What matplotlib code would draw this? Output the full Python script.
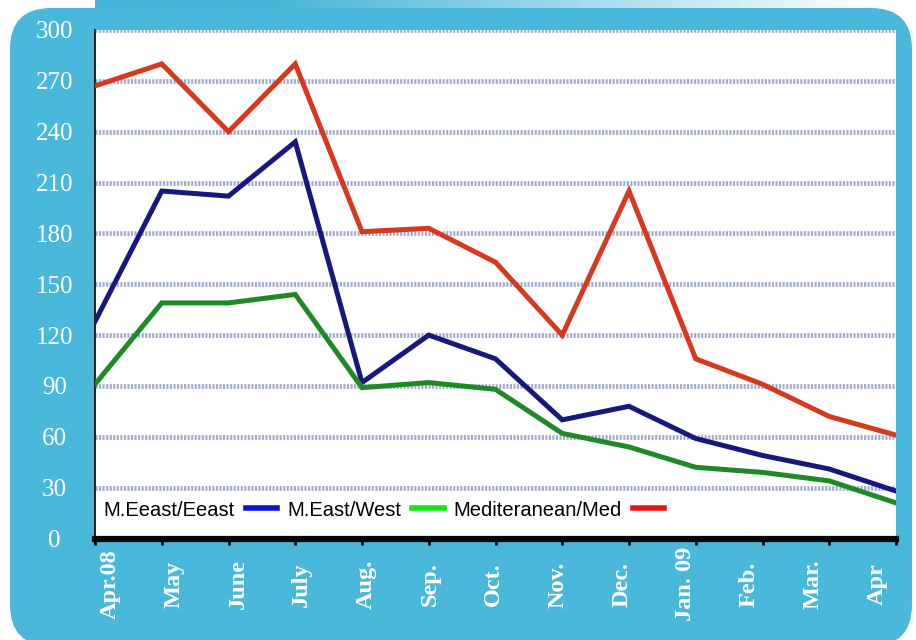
import numpy as np
import matplotlib.pyplot as plt
from matplotlib.patches import FancyBboxPatch
from matplotlib.lines import Line2D

# dados (tarifas por mes)
meses = ['Apr.08', 'May', 'June', 'July', 'Aug.', 'Sep.', 'Oct.', 'Nov.',
         'Dec.', 'Jan. 09', 'Feb.', 'Mar.', 'Apr']
me_east = [128, 205, 202, 234, 92, 120, 106, 70, 78, 59, 49, 41, 28]
me_west = [91, 139, 139, 144, 89, 92, 88, 62, 54, 42, 39, 34, 21]
med = [267, 280, 240, 280, 181, 183, 163, 120, 205, 106, 91, 72, 61]
nomes = ['M.Eeast/Eeast', 'M.East/West', 'Mediteranean/Med']
yticks = list(range(0, 301, 30))

azul_fundo = '#4ab8da'

fig = plt.figure(figsize=(9.16, 6.4), dpi=100)
fig.patch.set_facecolor('white')

# fundo azul arredondado
fundo = FancyBboxPatch((10 / 916, -6 / 640), 902 / 916, 638 / 640,
                       boxstyle='round,pad=0,rounding_size=0.045',
                       transform=fig.transFigure, facecolor=azul_fundo,
                       edgecolor='none', zorder=-5, mutation_aspect=916 / 640)
fig.patches.append(fundo)

# faixa clara no topo
ax_topo = fig.add_axes([95 / 916, 632 / 640, 780 / 916, 8 / 640], zorder=-4)
grad = np.linspace(1, 0, 256).reshape(1, -1)
cor = np.zeros((1, 256, 4))
cor[..., :3] = np.array([0x46, 0xb5, 0xd6]) / 255
cor[..., 3] = np.clip(grad * 1.3, 0, 1)
ax_topo.imshow(cor, aspect='auto')
ax_topo.axis('off')

ax = fig.add_axes([95 / 916, 101.5 / 640, 801 / 916, 508.5 / 640], zorder=1)
ax.set_facecolor('white')
x = np.arange(len(meses))

for y in yticks[1:]:
    ax.axhline(y, color='#a2a8ca', lw=3.4, linestyle=(0, (0.45, 0.3)), zorder=1)

ax.plot(x, med, color='#d5391f', lw=3.6, zorder=3, solid_joinstyle='miter')
ax.plot(x, me_east, color='#18187c', lw=3.6, zorder=3, solid_joinstyle='miter')
ax.plot(x, me_west, color='#1f8a25', lw=3.6, zorder=3, solid_joinstyle='miter')

ax.set_xlim(0, 12)
ax.set_ylim(0, 300)

ax.spines['top'].set_visible(False)
ax.spines['right'].set_visible(False)
ax.spines['left'].set_linewidth(1.2)
ax.spines['bottom'].set_linewidth(4.5)

ax.set_yticks(yticks)
ax.set_yticklabels([str(v) for v in yticks], family='Liberation Serif',
                   fontsize=18, color='white', ha='center')
ax.tick_params(axis='y', length=0, pad=29)

ax.set_xticks(x)
ax.set_xticklabels([])
ax.tick_params(axis='x', which='major', length=4, width=2, color='black')
pos_rot = np.linspace(0.225, 11.72, len(meses))
ax.set_xticks(pos_rot, meses, minor=True, rotation=90, family='Liberation Serif',
              fontsize=17.5, fontweight='bold', color='white', ha='center', va='center')
ax.tick_params(axis='x', which='minor', length=0, pad=33)

handles = [Line2D([], [], color=c, lw=4) for c in ['#0a14d2', '#14e614', '#ee1414']]
leg = ax.legend(handles, nomes, loc='center left', bbox_to_anchor=(0.011, 0.056),
                ncol=3, frameon=False, markerfirst=False, borderpad=0,
                borderaxespad=0, handlelength=1.55, handletextpad=0.55,
                columnspacing=0.5, prop={'family': 'Liberation Sans', 'size': 14.5})

fig.savefig('out.png', dpi=100, facecolor='white')
